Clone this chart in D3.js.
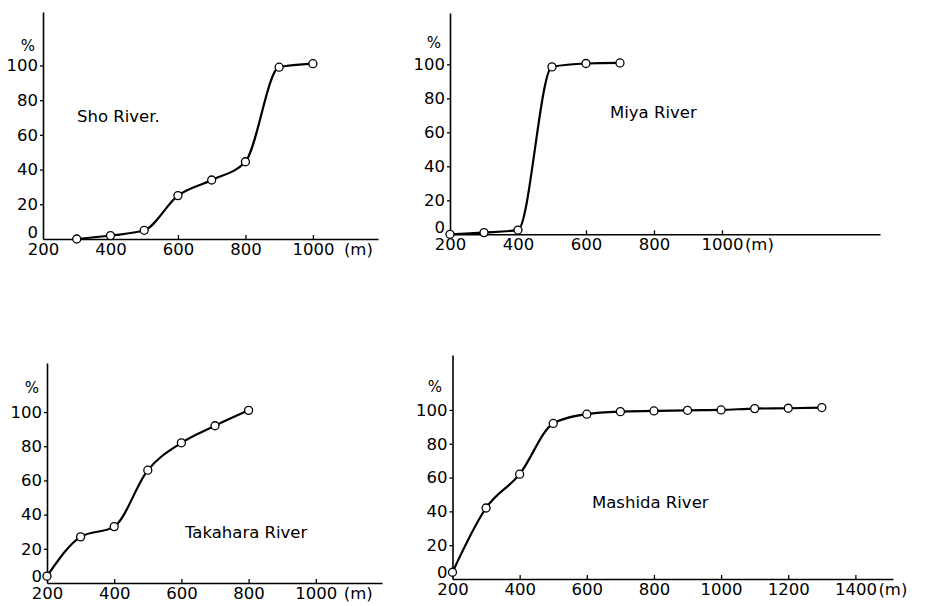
<!DOCTYPE html>
<html><head><meta charset="utf-8">
<script src="https://cdn.jsdelivr.net/npm/d3@7"></script>
<style>
body{margin:0;background:#fff}
text{font-family:"DejaVu Sans",sans-serif;fill:#000}
</style>
</head><body><svg id="c" width="925" height="606"></svg>
<script>
// ---- data ----
const shoDist = [300,400,500,600,700,800,900,1000];
const shoPct  = [0,2,5,25,34,44.5,99,101];
const miyaDist = [200,300,400,500,600,700];
const miyaPct  = [0,1,2.5,98.5,100.5,100.8];
const takaharaDist = [200,300,400,500,600,700,800];
const takaharaPct  = [4,27,33,66,82,92,101];
const mashidaDist = [200,300,400,500,600,700,800,900,1000,1100,1200,1300];
const mashidaPct  = [4,42,62,92,97.5,99,99.4,99.8,100,100.8,101,101.4];
const yTicks = [0,20,40,60,80,100];
const xTicksShort = [200,400,600,800,1000];
const xTicksLong = [200,400,600,800,1000,1200,1400];
const riverNames = ["Sho River.","Miya River","Takahara River","Mashida River"];
const yUnitLabel = "%";
const xUnitLabel = "(m)";

// ---- layout ----
const panels = [
  {dist:shoDist, pct:shoPct, name:riverNames[0], xt:xTicksShort,
   xr:[43,378], xd:[200,1193], yr:[239,12], yd:[0,130.8],
   lab:[77,122], pc:[28,51], mOff:31},
  {dist:miyaDist, pct:miyaPct, name:riverNames[1], xt:xTicksShort,
   xr:[450,880], xd:[200,1465], yr:[234.3,13], yd:[0,130.2],
   lab:[610,118], pc:[434,48], mOff:23},
  {dist:takaharaDist, pct:takaharaPct, name:riverNames[2], xt:xTicksShort,
   xr:[47,382], xd:[200,1197], yr:[583,363], yd:[0,128.7],
   lab:[185,538], pc:[32,393], mOff:28},
  {dist:mashidaDist, pct:mashidaPct, name:riverNames[3], xt:xTicksLong,
   xr:[452.5,893], xd:[200,1512], yr:[579,355], yd:[0,132.5],
   lab:[592,508], pc:[435,392], mOff:23}
];

const svg = d3.select("#c");
const fmt = d3.format("d");

panels.forEach(p => {
  const x = d3.scaleLinear().domain(p.xd).range(p.xr);
  const y = d3.scaleLinear().domain(p.yd).range(p.yr);
  const g = svg.append("g");

  // y axis
  const ya = g.append("g").attr("transform", `translate(${p.xr[0]},0)`)
    .call(d3.axisLeft(y).tickValues(yTicks).tickFormat(fmt).tickSizeInner(3).tickSizeOuter(0).tickPadding(2));
  // x axis
  const xa = g.append("g").attr("transform", `translate(0,${p.yr[0]})`)
    .call(d3.axisBottom(x).tickValues(p.xt).tickFormat(fmt).tickSizeInner(-4).tickSizeOuter(0).tickPadding(4));

  [ya, xa].forEach(a => {
    a.select(".domain").attr("stroke","#000").attr("stroke-width",1.6);
    a.selectAll(".tick line").attr("stroke","#000").attr("stroke-width",1.3);
    a.selectAll(".tick text").attr("font-size",16.5).attr("font-family","DejaVu Sans").attr("fill","#000");
  });
  xa.selectAll(".tick").filter(d => d === 200).select("line").remove();
  ya.selectAll(".tick").filter(d => d === 0).select("line").remove();
  ya.selectAll(".tick").filter(d => d === 0).select("text").attr("dy","-0.12em");

  // unit labels
  const last = p.xt[p.xt.length-1];
  g.append("text").attr("x", x(last)+p.mOff).attr("y", p.yr[0]+4).attr("dy","0.71em")
    .attr("font-size",16.5).text(xUnitLabel);
  g.append("text").attr("x", p.pc[0]).attr("y", p.pc[1]).attr("text-anchor","middle")
    .attr("font-size",15).text(yUnitLabel);

  // curve
  const pts = p.dist.map((d,i) => [d, p.pct[i]]);
  g.append("path").datum(pts)
    .attr("fill","none").attr("stroke","#000").attr("stroke-width",2.2)
    .attr("d", d3.line().x(d => x(d[0])).y(d => y(d[1])).curve(d3.curveMonotoneX));
  g.selectAll("circle").data(pts).join("circle")
    .attr("cx", d => x(d[0])).attr("cy", d => y(d[1])).attr("r",4)
    .attr("fill","#fff").attr("stroke","#000").attr("stroke-width",1.3);

  // river name
  g.append("text").attr("x", p.lab[0]).attr("y", p.lab[1]).attr("font-size",16.5).text(p.name);
});
</script>
</body></html>
